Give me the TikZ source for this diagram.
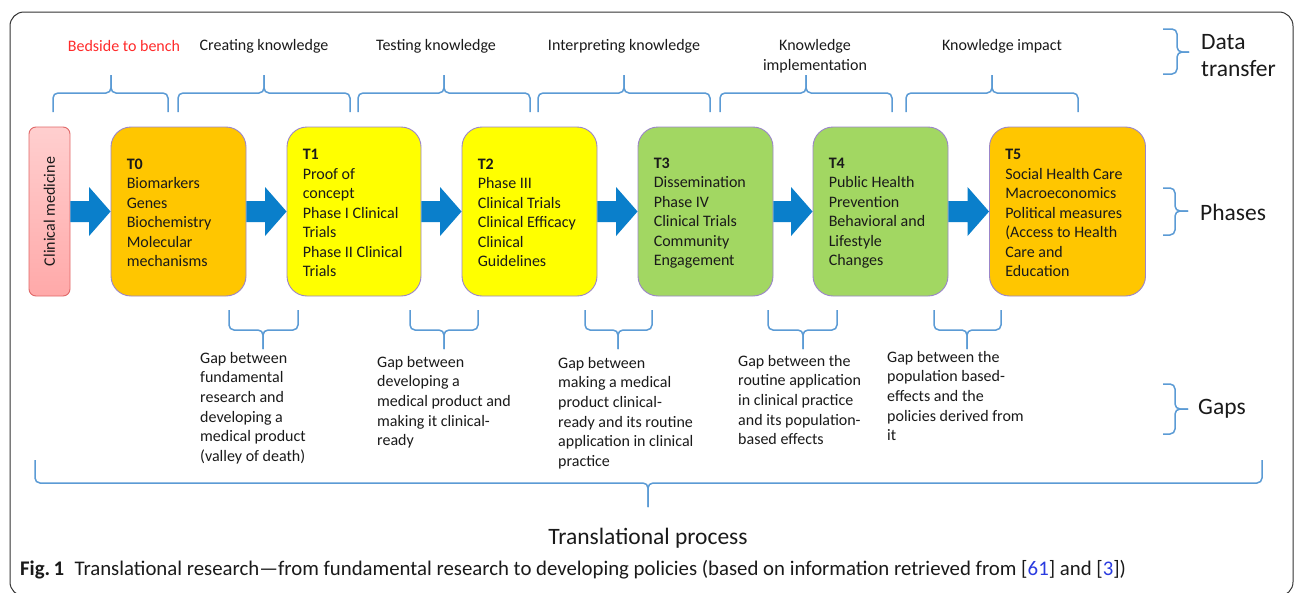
\documentclass[tikz,border=0pt]{standalone}
\usepackage{fontspec}
\setmainfont{Carlito}
\usetikzlibrary{calc}
\definecolor{bracec}{HTML}{5B9BD5}
\definecolor{arrowc}{HTML}{0A7FCB}
\definecolor{orangef}{HTML}{FFC600}
\definecolor{yellowf}{HTML}{FFFF00}
\definecolor{greenf}{HTML}{A2D762}
\definecolor{boxborder}{HTML}{9B85C9}
\definecolor{pinktop}{HTML}{FFCFCF}
\definecolor{pinkbot}{HTML}{FFA9A9}
\definecolor{pinkb}{HTML}{E06868}
\definecolor{redtxt}{HTML}{FF2B2B}
\definecolor{citec}{HTML}{2A3BE0}
\definecolor{framec}{HTML}{333333}
\definecolor{txtc}{HTML}{1A1A1A}
\newcommand{\blockarr}[2]{%
  \fill[arrowc] ($(#1.east)+(0,-10.5)$) -- ($(#2.west)+(-21.5,-10.5)$) -- ($(#2.west)+(-21.5,-24.5)$) -- (#2.west) -- ($(#2.west)+(-21.5,24.5)$) -- ($(#2.west)+(-21.5,10.5)$) -- ($(#1.east)+(0,10.5)$) -- cycle;}
% horizontal brace: x1, x2, xtip, yend, yline, ytip
\newcommand{\hbr}[6]{%
  \draw[bracestyle] (#1,#4) -- (#1,#5) -- (#3,#5) -- (#3,#6);
  \draw[bracestyle] (#2,#4) -- (#2,#5) -- (#3,#5) -- (#3,#6);}
% vertical brace: xend, xline, xtip, ytop, ybot, ymid
\newcommand{\vbr}[6]{%
  \draw[bracestyle] (#1,#4) -- (#2,#4) -- (#2,#6) -- (#3,#6);
  \draw[bracestyle] (#1,#5) -- (#2,#5) -- (#2,#6) -- (#3,#6);}
\begin{document}
\begin{tikzpicture}[x=1pt,y=-1pt,
  phasebox/.style={draw=boxborder, line width=0.9pt, rounded corners=20pt, minimum height=169pt, inner sep=0pt},
  phasetxt/.style={anchor=west, align=left, inner sep=0pt, text=txtc, font=\fontsize{16}{19.5}\selectfont},
  toplbl/.style={align=center, inner sep=0pt, text=txtc, font=\fontsize{16}{19.5}\selectfont},
  gaptxt/.style={anchor=north west, align=left, inner sep=0pt, text=txtc, font=\fontsize{16}{19.6}\selectfont},
  sidelbl/.style={anchor=west, align=left, inner sep=0pt, text=txtc, font=\fontsize{23.5}{27}\selectfont},
  bracestyle/.style={draw=bracec, line width=1.5pt, rounded corners=5pt},
]
\useasboundingbox (0,0) rectangle (1295,592);
\fill[white] (0,0) rectangle (1295,592);
\draw[framec, line width=1pt, rounded corners=14pt] (10,12) rectangle (1293,596);

% boxes
\node[draw=pinkb, line width=0.9pt, rounded corners=7pt, top color=pinktop, bottom color=pinkbot, minimum width=41pt, minimum height=169pt, inner sep=0pt] (cm) at (49.5,211.5) {};
\node[rotate=90, inner sep=0pt, text=txtc, font=\fontsize{16}{19.5}\selectfont] (cmtxt) at (cm.center) {Clinical medicine};

\node[phasebox, fill=orangef, minimum width=135pt] (t0) at (178.5,211.5) {};
\node[phasebox, fill=yellowf, minimum width=134pt] (t1) at (354,211.5) {};
\node[phasebox, fill=yellowf, minimum width=135pt] (t2) at (529.5,211.5) {};
\node[phasebox, fill=greenf, minimum width=135pt] (t3) at (705.5,211.5) {};
\node[phasebox, fill=greenf, minimum width=135pt] (t4) at (880.5,211.5) {};
\node[phasebox, fill=orangef, minimum width=156pt] (t5) at (1067.5,211.5) {};

\node[phasetxt] (t0txt) at ($(t0.west)+(16,1.5)$) {\textbf{T0}\\Biomarkers\\Genes\\Biochemistry\\Molecular\\mechanisms};
\node[phasetxt] (t1txt) at ($(t1.west)+(16,1.5)$) {\textbf{T1}\\Proof of\\concept\\Phase I Clinical\\Trials\\Phase II Clinical\\Trials};
\node[phasetxt] (t2txt) at ($(t2.west)+(16,1.5)$) {\textbf{T2}\\Phase III\\Clinical Trials\\Clinical Efficacy\\Clinical\\Guidelines};
\node[phasetxt] (t3txt) at ($(t3.west)+(16,1.5)$) {\textbf{T3}\\Dissemination\\Phase IV\\Clinical Trials\\Community\\Engagement};
\node[phasetxt] (t4txt) at ($(t4.west)+(16,1.5)$) {\textbf{T4}\\Public Health\\Prevention\\Behavioral and\\Lifestyle\\Changes};
\node[phasetxt] (t5txt) at ($(t5.west)+(16,1.5)$) {\textbf{T5}\\Social Health Care\\Macroeconomics\\Political measures\\(Access to Health\\Care and\\Education};

% arrows
\blockarr{cm}{t0}
\blockarr{t0}{t1}
\blockarr{t1}{t2}
\blockarr{t2}{t3}
\blockarr{t3}{t4}
\blockarr{t4}{t5}

% top labels
\node[toplbl, text=redtxt] (l0) at (124,46) {Bedside to bench};
\node[toplbl] (l1) at (264,46) {Creating knowledge};
\node[toplbl] (l2) at (436,46) {Testing knowledge};
\node[toplbl] (l3) at (624,46) {Interpreting knowledge};
\node[toplbl] (l4) at (815,56) {Knowledge\\implementation};
\node[toplbl] (l5) at (1002,46) {Knowledge impact};

% top braces
\hbr{53}{168}{111}{112}{93}{75}
\hbr{178}{350}{264}{112}{93}{75}
\hbr{358}{530}{444}{112}{93}{75}
\hbr{538}{710}{624}{112}{93}{75}
\hbr{720}{892}{806}{112}{93}{75}
\hbr{906}{1078}{992}{112}{93}{75}

% bottom braces
\hbr{229}{298}{263}{310}{330}{349}
\hbr{410}{478}{444}{310}{330}{349}
\hbr{585}{652}{618}{310}{330}{349}
\hbr{768}{837}{803}{310}{330}{349}
\hbr{934}{1001}{967}{310}{330}{349}

% gap texts
\node[gaptxt] (g1) at (200,352) {Gap between\\fundamental\\research and\\developing a\\medical product\\(valley of death)};
\node[gaptxt] (g2) at (377,356) {Gap between\\developing a\\medical product and\\making it clinical-\\ready};
\node[gaptxt] (g3) at (558,357) {Gap between\\making a medical\\product clinical-\\ready and its routine\\application in clinical\\practice};
\node[gaptxt] (g4) at (738,355) {Gap between the\\routine application\\in clinical practice\\and its population-\\based effects};
\node[gaptxt] (g5) at (887,351) {Gap between the\\population based-\\effects and the\\policies derived from\\it};

% side braces and labels
\vbr{1163}{1177}{1189}{29}{74}{52}
\node[sidelbl] (dt) at (1201,56) {Data\\transfer};
\vbr{1163}{1175}{1188}{188}{235}{211}
\node[sidelbl] (ph) at (1200,212) {Phases};
\vbr{1163}{1175}{1188}{384}{434}{409}
\node[sidelbl] (gp) at (1198,409) {Gaps};

% big brace
\hbr{35}{1262}{648}{460}{483}{507}
\node[toplbl, font=\fontsize{23.5}{27}\selectfont] (tp) at (648,538) {Translational process};

% caption
\node[anchor=west, inner sep=0pt, text=txtc, font=\fontsize{20.8}{22}\selectfont] (cap) at (20,570) {\textbf{Fig.\,1}\enspace Translational research—from fundamental research to developing policies (based on information retrieved from [\textcolor{citec}{61}] and [\textcolor{citec}{3}])};
\end{tikzpicture}
\end{document}
